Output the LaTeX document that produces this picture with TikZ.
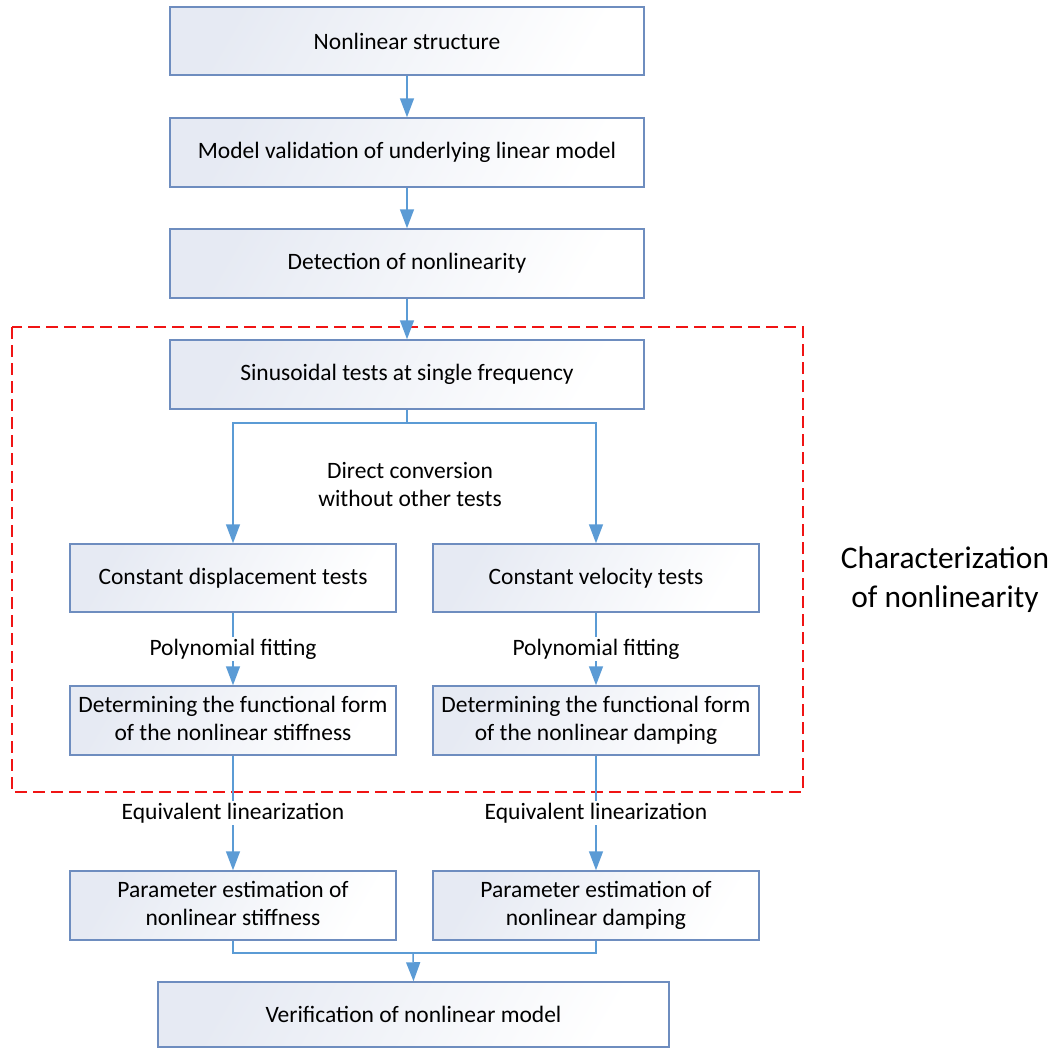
\documentclass[tikz,border=0pt]{standalone}
\usepackage{fontspec}
\setmainfont{Carlito}
\usepackage{xcolor}
\usetikzlibrary{arrows.meta}
\definecolor{boxline}{HTML}{6E8DBF}
\definecolor{boxfill}{HTML}{E6EAF3}
\definecolor{arrline}{HTML}{5B9BD5}
\definecolor{frame}{HTML}{F01414}
\tikzset{
  stepbox/.style={draw=boxline,line width=1.5pt,left color=boxfill,right color=white,
    shading angle=60,minimum width=474pt,minimum height=68pt,inner sep=0pt,align=center,
    font=\fontsize{23.5}{28}\selectfont},
  halfbox/.style={stepbox,minimum width=326pt,minimum height=68pt},
  lbl/.style={fill=white,inner sep=2pt,align=center,font=\fontsize{23.5}{28}\selectfont},
  conn/.style={draw=arrline,line width=1.5pt},
  arr/.style={conn,-{Triangle[length=19pt,width=14pt]}}
}
\begin{document}
\begin{tikzpicture}[x=1pt,y=-1pt]
\useasboundingbox (0,0) rectangle (1053,1050);
% Dashed frame
\draw[frame,line width=1.6pt,dash pattern=on 12pt off 6pt] (12,327) rectangle (803,792);
% Main column
\node[stepbox] (struct) at (407,41) {Nonlinear structure};
\node[stepbox,minimum height=69pt] (model) at (407,152.5) {Model validation of underlying linear model};
\node[stepbox,minimum height=69pt] (detect) at (407,263.5) {Detection of nonlinearity};
\node[stepbox,minimum height=69pt] (sinus) at (407,374.5) {Sinusoidal tests at single frequency};
% Two branches
\node[halfbox] (cdisp) at (233,578) {Constant displacement tests};
\node[halfbox] (cvel) at (596,578) {Constant velocity tests};
\node[halfbox,minimum height=69pt] (dstiff) at (233,720.5) {\strut Determining the functional form\\\strut of the nonlinear stiffness};
\node[halfbox,minimum height=69pt] (ddamp) at (596,720.5) {\strut Determining the functional form\\\strut of the nonlinear damping};
\node[halfbox,minimum height=69pt] (pstiff) at (233,905.5) {\strut Parameter estimation of\\\strut nonlinear stiffness};
\node[halfbox,minimum height=69pt] (pdamp) at (596,905.5) {\strut Parameter estimation of\\\strut nonlinear damping};
\node[stepbox,minimum width=511pt,minimum height=65pt] (verify) at (413.5,1014.5) {Verification of nonlinear model};
% Labels
\node[lbl,fill=none] (conv) at (410,484) {Direct conversion\\without other tests};
\node[align=center,font=\fontsize{31.4}{39}\selectfont] (charac) at (945,580) {Characterization\\of nonlinearity};
% Connectors
\draw[arr] (struct) -- (model);
\draw[arr] (model) -- (detect);
\draw[arr] (detect) -- (sinus);
\coordinate (split) at (407,423);
\draw[conn] (sinus) -- (split);
\draw[arr] (split) -| (cdisp.north);
\draw[arr] (split) -| (cvel.north);
\draw[arr] (cdisp) -- node[lbl] {Polynomial fitting} (dstiff);
\draw[arr] (cvel) -- node[lbl] {Polynomial fitting} (ddamp);
\draw[arr] (dstiff) -- node[lbl] {Equivalent linearization} (pstiff);
\draw[arr] (ddamp) -- node[lbl] {Equivalent linearization} (pdamp);
\coordinate (merge) at (413,953);
\draw[conn] (pstiff.south) |- (merge);
\draw[conn] (pdamp.south) |- (merge);
\draw[arr] (merge) -- (verify.north);
\end{tikzpicture}
\end{document}
